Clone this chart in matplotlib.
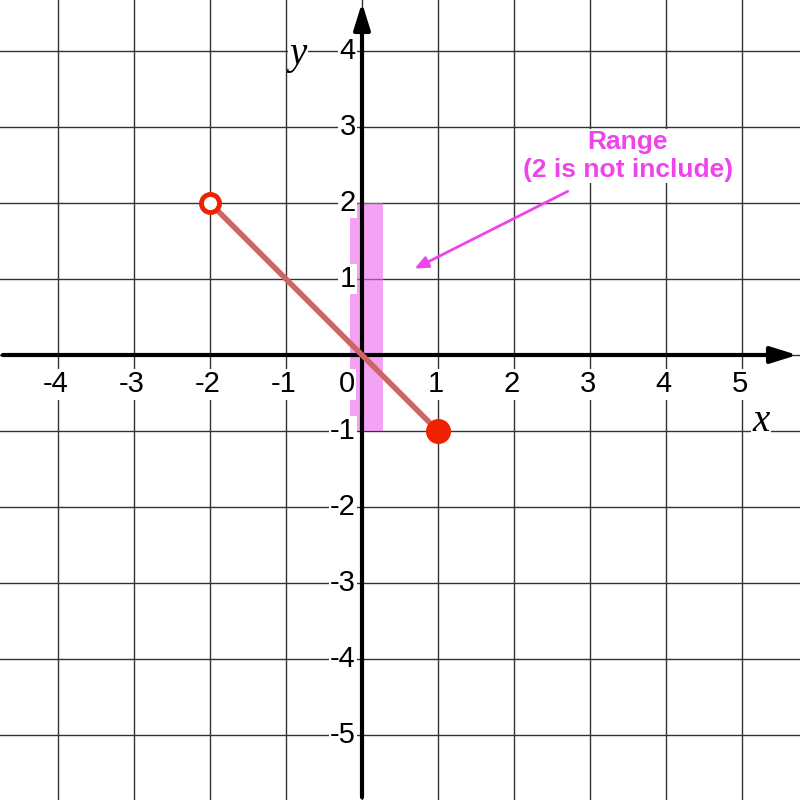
import matplotlib
matplotlib.use("Agg")
import matplotlib.pyplot as plt
from matplotlib.patches import Rectangle

# data
seg_x = [-2, 1]
seg_y = [2, -1]
x_ticks = [-4, -3, -2, -1, 1, 2, 3, 4, 5]
y_ticks = [-5, -4, -3, -2, -1, 1, 2, 3, 4]
range_lo, range_hi = -1, 2

fig = plt.figure(figsize=(8, 8), dpi=100)
ax = fig.add_axes([0, 0, 1, 1])
xmin, xmax = -362 / 76, (800 - 362) / 76
ymin, ymax = -(800 - 355) / 76, 355 / 76
ax.set_xlim(xmin, xmax); ax.set_ylim(ymin, ymax)
ax.axis("off")

for gx in range(-5, 6):
    ax.axvline(gx, color="#333333", lw=1, zorder=0)
for gy in range(-6, 5):
    ax.axhline(gy, color="#333333", lw=1, zorder=0)

# axes with arrows
ax.annotate("", xy=(xmax, 0), xytext=(xmin, 0),
            arrowprops=dict(arrowstyle="-|>,head_length=1.6,head_width=0.5", color="black", lw=3))
ax.annotate("", xy=(0, ymax), xytext=(0, ymin),
            arrowprops=dict(arrowstyle="-|>,head_length=1.6,head_width=0.5", color="black", lw=3))

bb = dict(facecolor="white", edgecolor="none", pad=1)
for t in x_ticks:
    ax.text(t - 0.03, -0.2, str(t), ha="center", va="top", fontsize=21,
            family="Liberation Sans", bbox=bb, zorder=5)
ax.text(-0.2, -0.2, "0", ha="center", va="top", fontsize=21, family="Liberation Sans",
        bbox=bb, zorder=5)
for t in y_ticks:
    ax.text(-0.08, t, str(t), ha="right", va="center", fontsize=21,
            family="Liberation Sans", bbox=bb, zorder=5)
ax.text(5.25, -0.87, "x", fontsize=28, style="italic", family="Liberation Serif",
        ha="center", va="center", bbox=bb, zorder=5)
ax.text(-0.84, 3.95, "y", fontsize=28, style="italic", family="Liberation Serif",
        ha="center", va="center", bbox=bb, zorder=5)

# range band
ax.add_patch(Rectangle((-0.16, range_lo), 0.44, range_hi - range_lo,
                       color="#ee66ee", alpha=0.6, lw=0, zorder=2))

ax.plot(seg_x, seg_y, color="#cc6666", lw=4, zorder=3)
ax.plot(seg_x[0], seg_y[0], "o", ms=13, mfc="white", mec="#ee2200", mew=3.5, zorder=4)
ax.plot(seg_x[1], seg_y[1], "o", ms=17, color="#ee2200", zorder=4)

ax.annotate("", xy=(0.66, 1.12), xytext=(2.74, 2.17),
            arrowprops=dict(arrowstyle="-|>,head_length=0.8,head_width=0.35", color="#ee44ee", lw=2))
ax.text(3.5, 2.62, "Range\n(2 is not include)", color="#ee44ee", fontsize=19,
        fontweight="bold", ha="center", va="center", family="Liberation Sans",
        bbox=bb, zorder=5)

fig.savefig("out.png", dpi=100)
